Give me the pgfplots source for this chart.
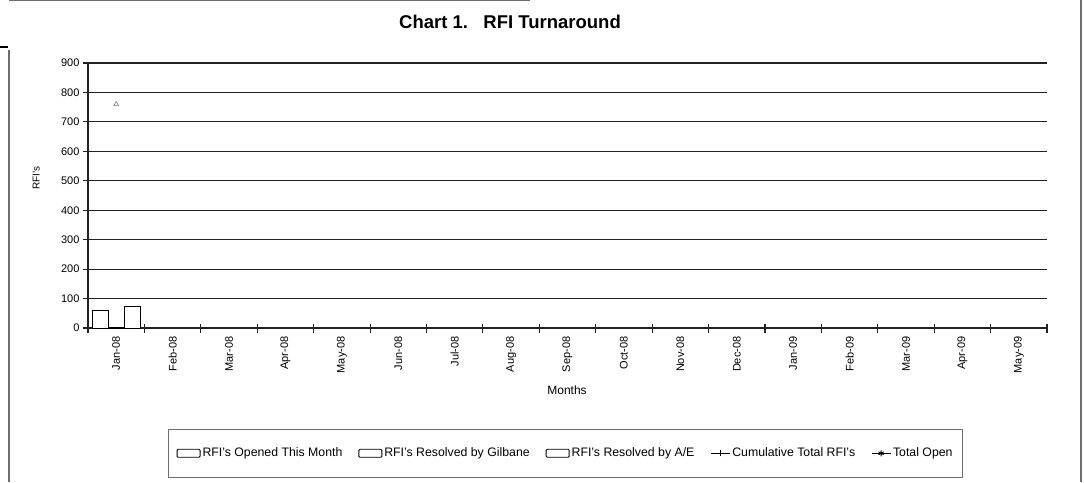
\documentclass[border=0pt]{standalone}
\usepackage{fontspec}
\setmainfont{Liberation Sans}
\usepackage{pgfplots}
\pgfplotsset{compat=1.18}
\definecolor{framegray}{HTML}{6E6E6E}
\definecolor{linegray}{HTML}{222222}
\begin{document}
\begin{tikzpicture}
\useasboundingbox (0pt,0pt) rectangle (1084pt,482pt);
% outer frame
\draw[framegray,line width=1.3pt] (9pt,432pt) -- (9pt,0pt);
\draw[framegray,line width=1.1pt] (9pt,481.3pt) -- (530pt,481.3pt);
\draw[framegray,line width=1.3pt] (1081pt,482pt) -- (1081pt,0pt);
\draw[black,line width=1.6pt] (0pt,435pt) -- (8pt,435pt);
\node[font=\fontsize{18.5}{21}\selectfont\bfseries] at (510pt,460.5pt) {Chart 1.\ \ \ RFI Turnaround};
\begin{axis}[
  at={(88pt,154pt)}, anchor=south west,
  scale only axis, width=959pt, height=265pt,
  xmin=-0.5, xmax=16.5, ymin=0, ymax=900,
  ytick={0,100,...,900},
  ymajorgrids, grid style={linegray, line width=1.1pt},
  axis x line*=bottom, axis y line*=left,
  axis line style={linegray, line width=1.1pt, -},
  xtick={0,...,16},
  xticklabels={Jan-08,Feb-08,Mar-08,Apr-08,May-08,Jun-08,Jul-08,Aug-08,Sep-08,Oct-08,Nov-08,Dec-08,Jan-09,Feb-09,Mar-09,Apr-09,May-09},
  major x tick style={draw=none},
  minor xtick={-0.5,0.5,...,16.5},
  minor x tick style={linegray, line width=1.1pt, yshift=4.5pt},
  minor tick length=9pt,
  major tick length=5pt,
  y tick style={linegray, line width=1.1pt},
  tick align=outside,
  /pgf/number format/assume math mode=true,
  x tick label style={rotate=90, anchor=east, font=\fontsize{11}{13}\selectfont},
  y tick label style={font=\fontsize{11}{13}\selectfont},
  ylabel={RFI's},
  ylabel style={at={(axis description cs:-0.054,0.566)}, anchor=center, font=\fontsize{10}{12}\selectfont},
  xlabel={Months},
  xlabel style={at={(axis description cs:0.4995,-0.234)}, anchor=center, font=\fontsize{12}{14}\selectfont},
  legend columns=5,
  legend style={at={(axis description cs:0.498,-0.566)}, anchor=south,
    draw=framegray, line width=1pt, font=\fontsize{12.3}{14}\selectfont,
    inner xsep=8pt, inner ysep=17pt,
    /tikz/every even column/.append style={column sep=14pt}},
  barleg/.style={legend image code/.code={\draw[black,line width=0.9pt,fill=white,rounded corners=1pt] (0pt,-4pt) rectangle (23pt,4pt);}},
]
\addplot[black, line width=1pt, fill=white, ybar, bar width=16pt, bar shift=-16pt, barleg] coordinates {(0,58)};
\addlegendentry{RFI's Opened This Month}
\addplot[black, line width=1pt, fill=white, ybar, bar width=16pt, bar shift=0pt, barleg] coordinates {(0,3)};
\addlegendentry{RFI's Resolved by Gilbane}
\addplot[black, line width=1pt, fill=white, ybar, bar width=16pt, bar shift=16pt, barleg] coordinates {(0,73)};
\addlegendentry{RFI's Resolved by A/E}
\addplot[gray, line width=0.6pt, only marks, mark=triangle, mark size=2.8pt,
  legend image code/.code={\draw[black,line width=0.9pt] (0pt,0pt) -- (19pt,0pt); \draw[black,line width=0.9pt] (9.5pt,-3pt) -- (9.5pt,3pt);}] coordinates {(0,760)};
\addlegendentry{Cumulative Total RFI's}
\addlegendimage{legend image code/.code={\draw[black,line width=0.9pt] (0pt,0pt) -- (19pt,0pt); \draw[black,line width=0.8pt,mark=asterisk,mark size=3pt] plot coordinates {(9.5pt,0pt)};}}
\addlegendentry{Total Open}
\end{axis}
\end{tikzpicture}
\end{document}
